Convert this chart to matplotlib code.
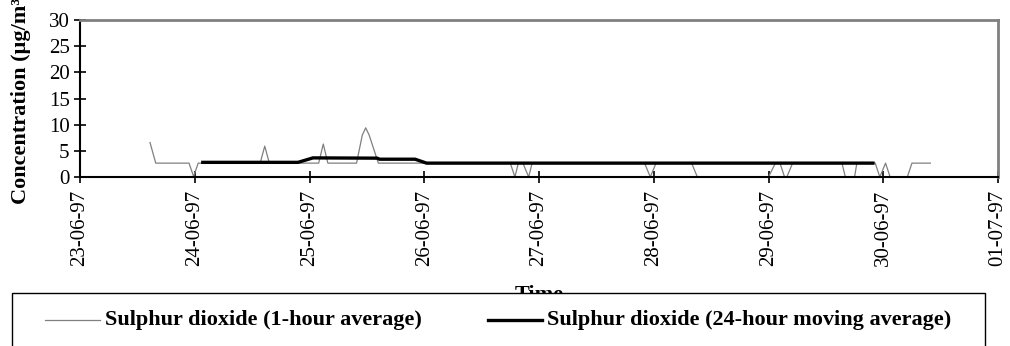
import matplotlib
matplotlib.use("Agg")
import matplotlib.pyplot as plt
from matplotlib.lines import Line2D
from matplotlib.patches import Rectangle

# days counted from 23-06-97 00:00
day_labels = ["23-06-97", "24-06-97", "25-06-97", "26-06-97", "27-06-97",
              "28-06-97", "29-06-97", "30-06-97", "01-07-97"]

# 1-hour average (breakpoints)
hour_t = [0.61, 0.66, 0.95, 0.99, 1.03, 1.57, 1.61, 1.65, 2.08, 2.12, 2.16,
          2.41, 2.46, 2.49, 2.52, 2.60, 3.75, 3.79, 3.82, 3.86, 3.91, 3.94,
          4.92, 4.97, 5.02, 5.33, 5.38, 6.00, 6.06, 6.10, 6.14, 6.16, 6.21,
          6.64, 6.67, 6.75, 6.77, 6.93, 6.97, 7.02, 7.06, 7.09, 7.21, 7.25, 7.41]
hour_v = [6.6, 2.65, 2.65, 0.1, 2.65, 2.65, 5.9, 2.65, 2.65, 6.3, 2.65,
          2.65, 8.0, 9.4, 8.0, 2.65, 2.65, 0.0, 2.65, 2.65, 0.0, 2.65,
          2.65, 0.0, 2.65, 2.65, 0.0, 0.0, 2.65, 2.65, 0.0, 0.0, 2.65,
          2.65, 0.0, 0.0, 2.65, 2.65, 0.0, 2.65, 0.0, 0.0, 0.0, 2.65, 2.65]

# 24-hour moving average
avg_t = [1.07, 1.90, 2.03, 2.59, 2.61, 2.92, 3.02, 6.91]
avg_v = [2.8, 2.8, 3.65, 3.6, 3.4, 3.4, 2.65, 2.65]

series_names = ["Sulphur dioxide (1-hour average)",
                "Sulphur dioxide (24-hour moving average)"]

plt.rcParams['font.family'] = ['Liberation Serif', 'DejaVu Serif']

W, H = 1010, 346
fig = plt.figure(figsize=(W / 100, H / 100), dpi=100)
ax = fig.add_axes([80 / W, 1 - 177 / H, 918 / W, 157 / H])

ax.plot(hour_t, hour_v, color='#808080', lw=0.9)
ax.plot(avg_t, avg_v, color='black', lw=2.4)

ax.set_xlim(0, 8)
ax.set_ylim(0, 30)
ax.set_xticks(range(len(day_labels)))
ax.set_xticklabels(day_labels, rotation=90)
ax.set_yticks(range(0, 31, 5))
ax.tick_params(axis='both', direction='inout', length=9, width=1.2,
               labelsize=15)
ax.tick_params(axis='x', pad=5)
ax.tick_params(axis='y', pad=3)

for s in ['top', 'right']:
    ax.spines[s].set_color('#808080')
    ax.spines[s].set_linewidth(2)
for s in ['left', 'bottom']:
    ax.spines[s].set_color('black')
    ax.spines[s].set_linewidth(1.5)

fig.text(21 / W, 1 - 204 / H, "Concentration (\u00b5g/m\u00b3)",
         rotation=90, ha='center', va='bottom', fontsize=16,
         fontweight='bold')

fig.text(539 / W, 1 - 285 / H, "Time", ha='center', va='top',
         fontsize=16, fontweight='bold', zorder=1)

# legend box drawn by hand, it covers part of the "Time" label
box = Rectangle((12 / W, -0.05), 973 / W, 1 - 293 / H + 0.05,
                transform=fig.transFigure, facecolor='white',
                edgecolor='black', lw=1.0, zorder=5)
fig.patches.append(box)

ly = 1 - 320 / H
fig.lines.append(Line2D([45 / W, 100 / W], [ly, ly], color='#808080',
                        lw=0.9, transform=fig.transFigure, zorder=6))
fig.text(105 / W, ly, series_names[0], ha='left', va='center',
         fontsize=16, fontweight='bold', zorder=6)
fig.lines.append(Line2D([488 / W, 542 / W], [ly, ly], color='black',
                        lw=2.4, transform=fig.transFigure, zorder=6))
fig.text(547 / W, ly, series_names[1], ha='left', va='center',
         fontsize=16, fontweight='bold', zorder=6)

fig.savefig("out.png", dpi=100)
